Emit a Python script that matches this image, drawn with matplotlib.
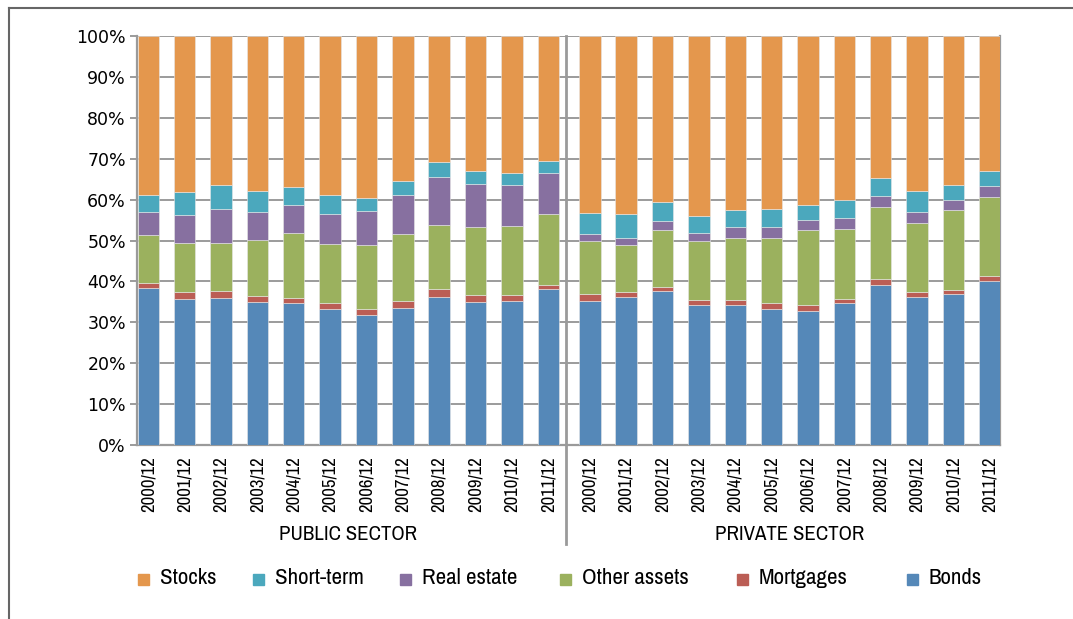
import numpy as np
import matplotlib
matplotlib.use("Agg")
import matplotlib.pyplot as plt
from matplotlib.patches import Rectangle
from matplotlib.lines import Line2D

# shares in % per year
YEARS = ["2000/12", "2001/12", "2002/12", "2003/12", "2004/12", "2005/12",
         "2006/12", "2007/12", "2008/12", "2009/12", "2010/12", "2011/12"]
SECTORS = ["PUBLIC SECTOR", "PRIVATE SECTOR"]
SERIES = ["Bonds", "Mortgages", "Other assets", "Real estate", "Short-term", "Stocks"]

public_bonds = [38.3, 35.7, 36.0, 34.9, 34.6, 33.2, 31.8, 33.4, 36.3, 34.9, 35.2, 38.1]
public_mortgages = [1.4, 1.6, 1.7, 1.5, 1.4, 1.4, 1.4, 1.7, 1.9, 1.7, 1.4, 1.0]
public_other = [11.6, 12.2, 11.8, 13.8, 15.9, 14.6, 15.7, 16.4, 15.7, 16.8, 16.9, 17.3]
public_real_estate = [5.6, 6.8, 8.2, 6.8, 6.8, 7.2, 8.4, 9.7, 11.6, 10.5, 10.1, 10.0]
public_short_term = [4.3, 5.5, 5.9, 5.1, 4.5, 4.8, 3.1, 3.4, 3.8, 3.1, 2.8, 3.1]
public_stocks = [38.8, 38.2, 36.4, 37.9, 36.8, 38.8, 39.6, 35.4, 30.7, 33.0, 33.6, 30.5]

private_bonds = [35.3, 36.1, 37.6, 34.3, 34.3, 33.3, 32.8, 34.6, 39.0, 36.1, 36.8, 40.2]
private_mortgages = [1.5, 1.4, 1.1, 1.2, 1.2, 1.5, 1.5, 1.2, 1.7, 1.2, 1.2, 1.2]
private_other = [13.0, 11.5, 13.8, 14.5, 15.2, 15.7, 18.2, 17.1, 17.4, 17.1, 19.4, 19.2]
private_real_estate = [1.7, 1.7, 2.2, 1.8, 2.5, 2.7, 2.4, 2.5, 2.7, 2.5, 2.6, 2.7]
private_short_term = [5.2, 5.7, 4.6, 4.1, 4.2, 4.4, 3.8, 4.4, 4.4, 5.2, 3.6, 3.7]
private_stocks = [43.3, 43.6, 40.7, 44.1, 42.6, 42.4, 41.3, 40.2, 34.8, 37.9, 36.4, 33.0]

COLORS = {
    "Bonds": "#5588b8",
    "Mortgages": "#bb5e55",
    "Other assets": "#9bb15e",
    "Real estate": "#8770a0",
    "Short-term": "#4ba8bd",
    "Stocks": "#e4974d",
}

NARROW = ["Archivo Narrow", "Roboto Condensed", "DejaVu Sans"]

public = [public_bonds, public_mortgages, public_other,
          public_real_estate, public_short_term, public_stocks]
private = [private_bonds, private_mortgages, private_other,
           private_real_estate, private_short_term, private_stocks]

# private group sits a bit further right than a plain continuation
x_public = np.arange(len(YEARS))
x_private = np.arange(len(YEARS)) + 12.14
W, H = 1073, 619

fig = plt.figure(figsize=(W / 100, H / 100), dpi=100)
ax = fig.add_axes([137 / W, (H - 445) / H, (1000 - 137) / W, (445 - 36) / H])

for xs, groups in [(x_public, public), (x_private, private)]:
    bottom = np.zeros(len(YEARS))
    for name, vals in zip(SERIES, groups):
        ax.bar(xs, vals, bottom=bottom, width=0.59, color=COLORS[name],
               edgecolor="#e8e8e8", linewidth=0.4, zorder=3)
        bottom += np.array(vals)

ax.set_xlim(-0.31, 23.42)
ax.set_ylim(0, 100)
ax.set_yticks(np.arange(0, 101, 10))
ax.set_yticklabels([f"{v}%" for v in range(0, 101, 10)], fontsize=12.5,
                   family="DejaVu Sans")
ax.yaxis.grid(True, color="#8a8a8a", linewidth=1.2, zorder=0)
ax.tick_params(axis="y", length=5, width=1.2, color="#8a8a8a", pad=3)

ax.set_xticks(np.concatenate([x_public, x_private]))
ax.set_xticklabels(YEARS + YEARS, rotation=90, fontsize=13.5, family=NARROW)
ax.tick_params(axis="x", length=0, pad=8)

for side in ["top", "right", "left", "bottom"]:
    ax.spines[side].set_color("#9a9a9a")
    ax.spines[side].set_linewidth(1.6)
ax.spines["top"].set_visible(False)

# vertical divider between the two sectors, running down past the labels
sep = (566 - 137) / (1000 - 137)
ax.add_line(Line2D([sep, sep], [1.0, -0.243], transform=ax.transAxes,
                   color="#9a9a9a", linewidth=2, clip_on=False, zorder=4))

ax.text(x_public.mean(), -0.218, SECTORS[0], transform=ax.get_xaxis_transform(),
        ha="center", va="center", fontsize=15, family=NARROW)
ax.text(x_private.mean(), -0.218, SECTORS[1], transform=ax.get_xaxis_transform(),
        ha="center", va="center", fontsize=15, family=NARROW)

# legend drawn by hand
legend_order = ["Stocks", "Short-term", "Real estate", "Other assets", "Mortgages", "Bonds"]
marker_x = [138, 253, 400, 560, 737, 907]
for name, mx in zip(legend_order, marker_x):
    fig.patches.append(Rectangle((mx / W, (H - 585) / H), 11 / W, 11 / H,
                                 transform=fig.transFigure, color=COLORS[name]))
    fig.text((mx + 22) / W, (H - 578) / H, name, ha="left", va="center",
             fontsize=16.5, family=NARROW)

# outer frame (top and left only)
fig.add_artist(Line2D([9 / W, 1], [1 - 8 / H, 1 - 8 / H], transform=fig.transFigure,
                      color="#666666", linewidth=1.5))
fig.add_artist(Line2D([9 / W, 9 / W], [0, 1 - 8 / H], transform=fig.transFigure,
                      color="#666666", linewidth=1.5))

fig.savefig("out.png", dpi=100)
